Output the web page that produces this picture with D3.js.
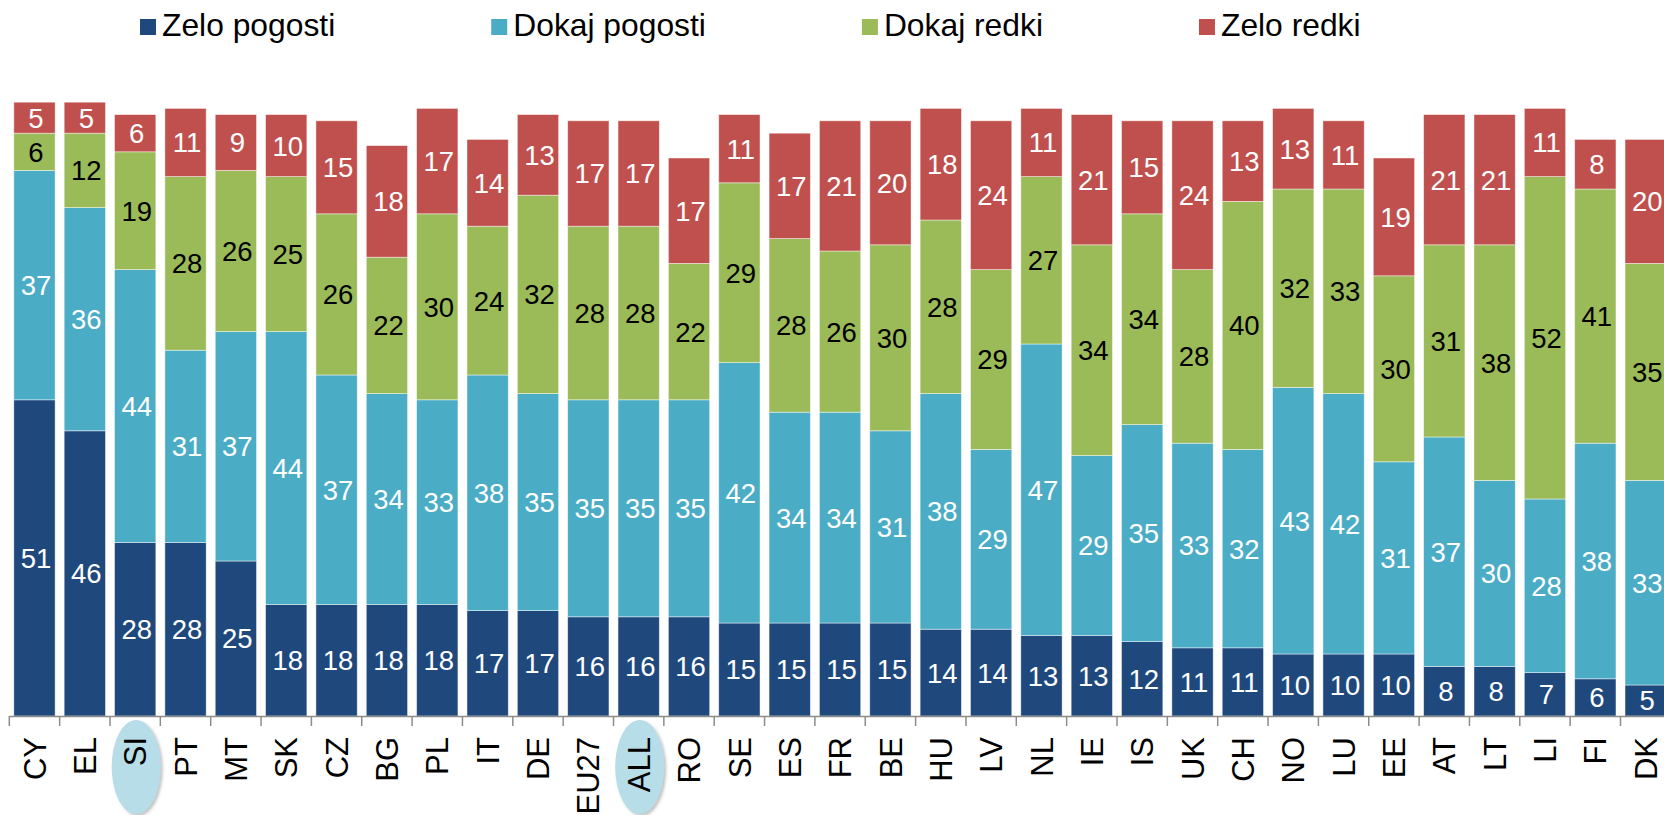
<!DOCTYPE html>
<html>
<head>
<meta charset="utf-8">
<script src="https://cdn.jsdelivr.net/npm/d3@7"></script>
<style>
  html, body { margin: 0; padding: 0; background: #fff; }
  svg { display: block; font-family: "Liberation Sans", Arial, sans-serif; }
</style>
</head>
<body>
<div id="chart"></div>
<script>
// Podatki
const countries = ["CY", "EL", "SI", "PT", "MT", "SK", "CZ", "BG", "PL", "IT", "DE", "EU27", "ALL",
  "RO", "SE", "ES", "FR", "BE", "HU", "LV", "NL", "IE", "IS", "UK", "CH", "NO", "LU", "EE",
  "AT", "LT", "LI", "FI", "DK"]
const seriesNames = ["Zelo pogosti", "Dokaj pogosti", "Dokaj redki", "Zelo redki"]
const zeloPogosti = [51, 46, 28, 28, 25, 18, 18, 18, 18, 17, 17, 16, 16, 16, 15, 15, 15, 15, 14, 14,
  13, 13, 12, 11, 11, 10, 10, 10, 8, 8, 7, 6, 5]
const dokajPogosti = [37, 36, 44, 31, 37, 44, 37, 34, 33, 38, 35, 35, 35, 35, 42, 34, 34, 31, 38, 29,
  47, 29, 35, 33, 32, 43, 42, 31, 37, 30, 28, 38, 33]
const dokajRedki = [6, 12, 19, 28, 26, 25, 26, 22, 30, 24, 32, 28, 28, 22, 29, 28, 26, 30, 28, 29,
  27, 34, 34, 28, 40, 32, 33, 30, 31, 38, 52, 41, 35]
const zeloRedki = [5, 5, 6, 11, 9, 10, 15, 18, 17, 14, 13, 17, 17, 17, 11, 17, 21, 20, 18, 24,
  11, 21, 15, 24, 13, 13, 11, 19, 21, 21, 11, 8, 20]
const highlighted = ["SI", "ALL"]

function drawChart() {
  const widthRect = 1664
  const heightRect = 815

  // Barve (Excel paleta)
  const colors = ["#1F497D", "#4BACC6", "#9BBB59", "#C0504D"]
  const labelColors = ["#fff", "#fff", "#000", "#fff"]

  const svg = d3.select("#chart")
    .append("svg")
    .attr("width", widthRect)
    .attr("height", heightRect)

  // senca za elipse
  const defs = svg.append("defs")
  const filter = defs.append("filter").attr("id", "shadow")
    .attr("x", "-30%").attr("y", "-30%").attr("width", "160%").attr("height", "160%")
  filter.append("feDropShadow")
    .attr("dx", 2).attr("dy", 2).attr("stdDeviation", 1.5)
    .attr("flood-color", "#777").attr("flood-opacity", 0.45)

  // Tabela za skladanje
  const table = countries.map((c, i) => ({
    country: c,
    "Zelo pogosti": zeloPogosti[i],
    "Dokaj pogosti": dokajPogosti[i],
    "Dokaj redki": dokajRedki[i],
    "Zelo redki": zeloRedki[i]
  }))
  const stack = d3.stack().keys(seriesNames)(table)

  const baseY = 716
  const x = d3.scaleBand()
    .domain(countries)
    .range([9.3, 9.3 + countries.length * 50.35])
    .paddingInner(0.18)
    .paddingOuter(0.09)
  const y = d3.scaleLinear().domain([0, 100]).range([baseY, 96])

  // Elipse za poudarjene države
  svg.append("g")
    .selectAll("ellipse")
    .data(highlighted)
    .enter()
    .append("ellipse")
    .attr("cx", (d) => x(d) + x.bandwidth() / 2 + 1)
    .attr("cy", 767)
    .attr("rx", 24.5)
    .attr("ry", 47)
    .attr("fill", "#B7DDE8")
    .attr("filter", "url(#shadow)")

  // Stolpci
  const layers = svg.append("g")
    .selectAll("g")
    .data(stack)
    .enter()
    .append("g")
    .attr("fill", (d, i) => colors[i])

  layers.selectAll("rect")
    .data((d) => d)
    .enter()
    .append("rect")
    .attr("x", (d) => x(d.data.country))
    .attr("y", (d) => y(d[1]))
    .attr("width", x.bandwidth())
    .attr("height", (d) => y(d[0]) - y(d[1]))
    .attr("stroke", "#fff")
    .attr("stroke-opacity", 0.55)
    .attr("stroke-width", 0.8)

  // Oznake vrednosti
  const labels = svg.append("g")
    .attr("font-size", 27.5)
    .attr("text-anchor", "middle")
  stack.forEach((layer, i) => {
    labels.selectAll(null)
      .data(layer)
      .enter()
      .append("text")
      .attr("x", (d) => x(d.data.country) + x.bandwidth() / 2 + 1.5)
      .attr("y", (d) => (y(d[0]) + y(d[1])) / 2)
      .attr("dy", "0.36em")
      .attr("fill", labelColors[i])
      .text((d) => d.data[layer.key])
  })

  // Os X
  const axisG = svg.append("g").attr("transform", "translate(0," + baseY + ")")
  const axisColor = "#8C8C8C"
  axisG.append("line")
    .attr("x1", x.range()[0]).attr("x2", widthRect)
    .attr("y1", 0.5).attr("y2", 0.5)
    .attr("stroke", axisColor).attr("stroke-width", 1.5)
  const gap = (x.step() - x.bandwidth()) / 2
  axisG.selectAll("line.tick")
    .data(countries)
    .enter()
    .append("line")
    .attr("class", "tick")
    .attr("x1", (d) => x(d) - gap).attr("x2", (d) => x(d) - gap)
    .attr("y1", 0).attr("y2", 10)
    .attr("stroke", axisColor).attr("stroke-width", 1.5)

  axisG.selectAll("text")
    .data(countries)
    .enter()
    .append("text")
    .attr("transform", (d) => "translate(" + (x(d) + x.bandwidth() / 2) + ",21) rotate(-90)")
    .attr("dy", "0.36em")
    .attr("text-anchor", "end")
    .attr("font-size", 31)
    .attr("fill", "#000")
    .text((d) => d)

  // Legenda
  const legend = svg.append("g").attr("transform", "translate(140,0)")
  let offset = 0
  seriesNames.forEach((name, i) => {
    const item = legend.append("g").attr("transform", "translate(" + offset + ",0)")
    item.append("rect")
      .attr("x", 0).attr("y", 19)
      .attr("width", 16).attr("height", 16)
      .attr("fill", colors[i])
    const t = item.append("text")
      .attr("x", 22).attr("y", 36)
      .attr("font-size", 31.8)
      .attr("fill", "#000")
      .text(name)
    offset += 22 + t.node().getComputedTextLength() + 156
  })
}

drawChart()
</script>
</body>
</html>
